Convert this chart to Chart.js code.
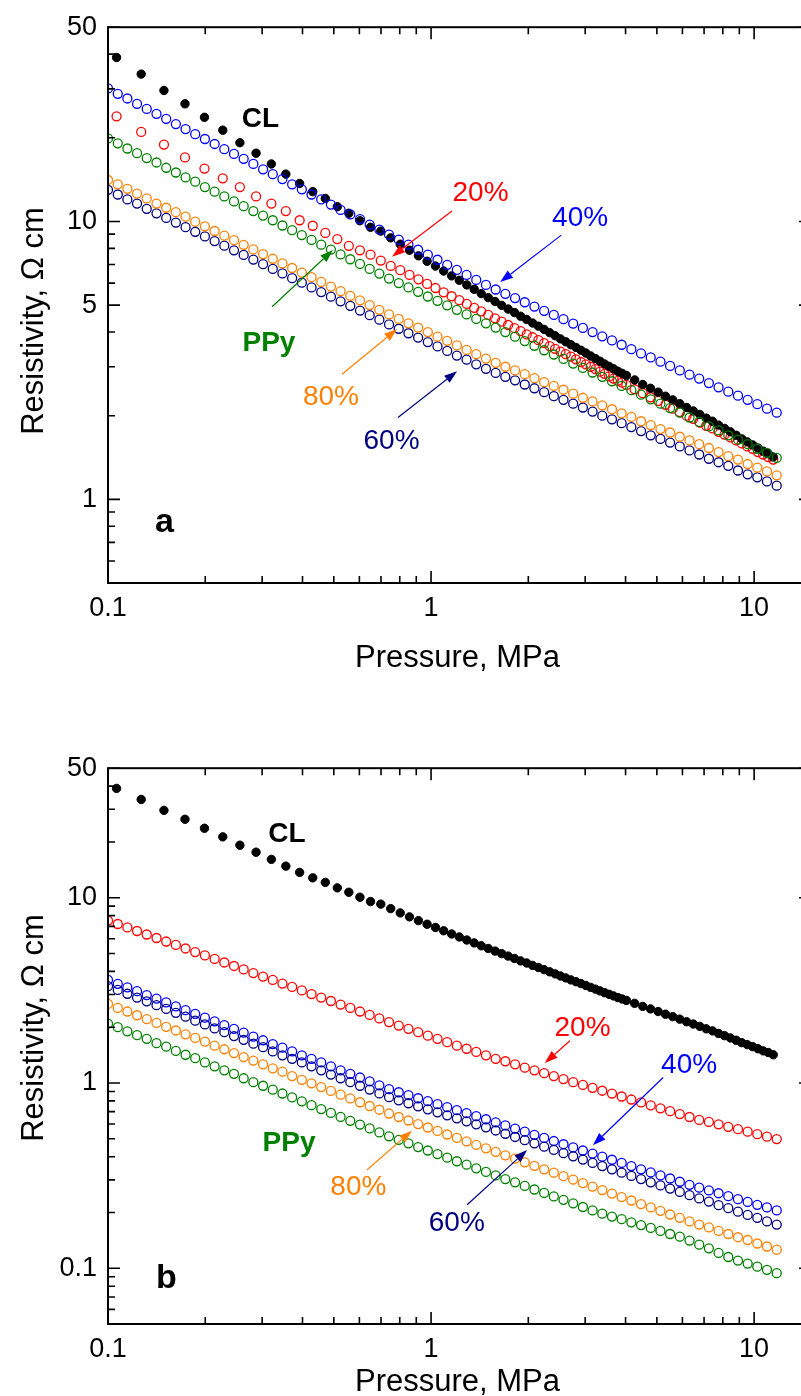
<!DOCTYPE html>
<html>
<head>
<meta charset="utf-8">
<script src="https://cdn.jsdelivr.net/npm/chart.js@4.4.0/dist/chart.umd.min.js"></script>
<style>
  html, body { margin: 0; padding: 0; background: #fff; overflow: hidden; }
  body { width: 801px; height: 1396px; position: relative; }
  .panel { position: absolute; left: 0; width: 820px; height: 690px; }
  #panelA { top: 0; }
  #panelB { top: 741px; }
</style>
</head>
<body>
<div class="panel" id="panelA"><canvas id="chartA" width="820" height="690"></canvas></div>
<div class="panel" id="panelB"><canvas id="chartB" width="820" height="690"></canvas></div>
<script>
// pressure grid (MPa) of the densely sampled composites
const pressure = [
  0.1, 0.1072, 0.1148, 0.123, 0.1318, 0.1413, 0.1514, 0.1622, 0.1738, 0.1862,
  0.1995, 0.2138, 0.2291, 0.2455, 0.263, 0.2818, 0.302, 0.3236, 0.3467, 0.3715,
  0.3981, 0.4266, 0.4571, 0.4898, 0.5248, 0.5623, 0.6026, 0.6457, 0.6918, 0.7413,
  0.7943, 0.8511, 0.912, 0.9772, 1.047, 1.122, 1.202, 1.288, 1.38, 1.479,
  1.585, 1.698, 1.82, 1.95, 2.089, 2.239, 2.399, 2.57, 2.754, 2.951,
  3.162, 3.388, 3.631, 3.89, 4.169, 4.467, 4.786, 5.129, 5.495, 5.888,
  6.31, 6.761, 7.244, 7.762, 8.318, 8.913, 9.55, 10.23, 10.96, 11.75
];

// CL (and 20% in panel a) were logged on a coarser grid at low pressure
const clPressure = [
  0.1063, 0.1267, 0.149, 0.1731, 0.1989, 0.2266, 0.256, 0.2873, 0.3204, 0.3552,
  0.3919, 0.4303, 0.4706, 0.5127, 0.5565, 0.6022, 0.6496, 0.6989, 0.75, 0.8028,
  0.8575, 0.9139, 0.9722, 1.032, 1.094, 1.158, 1.223, 1.29, 1.36, 1.43,
  1.503, 1.578, 1.654, 1.732, 1.812, 1.893, 1.977, 2.062, 2.149, 2.238,
  2.329, 2.421, 2.515, 2.611, 2.709, 2.809, 2.91, 3.014, 3.119, 3.226,
  3.334, 3.445, 3.557, 3.671, 3.787, 3.905, 4.024, 4.268, 4.52, 4.779,
  5.045, 5.318, 5.598, 5.885, 6.18, 6.482, 6.791, 7.108, 7.431, 7.762,
  8.1, 8.445, 8.797, 9.157, 9.523, 9.897, 10.28, 10.67, 11.06, 11.46
];
const clResistivity = [
  38.9, 33.9, 29.6, 26.5, 23.7, 21.3, 19.2, 17.6, 16.1, 14.8,
  13.7, 12.8, 12.1, 11.3, 10.7, 10.06, 9.53, 9.23, 8.73, 8.28,
  7.88, 7.52, 7.19, 6.91, 6.63, 6.37, 6.14, 5.91, 5.70, 5.50,
  5.32, 5.15, 4.99, 4.84, 4.70, 4.56, 4.44, 4.31, 4.20, 4.09,
  3.98, 3.88, 3.78, 3.69, 3.60, 3.52, 3.44, 3.36, 3.28, 3.21,
  3.14, 3.07, 3.01, 2.95, 2.89, 2.84, 2.79, 2.69, 2.59, 2.51,
  2.43, 2.35, 2.28, 2.21, 2.14, 2.08, 2.02, 1.96, 1.91, 1.85,
  1.80, 1.75, 1.70, 1.65, 1.61, 1.57, 1.53, 1.49, 1.46, 1.42
];

// panel a
const a20 = [
  23.9, 21.0, 18.9, 17.0, 15.5, 14.3, 13.3, 12.3, 11.6, 10.9,
  10.1, 9.65, 9.09, 8.64, 8.17, 7.87, 7.59, 7.23, 6.92, 6.68,
  6.42, 6.19, 5.96, 5.76, 5.56, 5.38, 5.21, 5.05, 4.89, 4.75,
  4.61, 4.48, 4.36, 4.24, 4.13, 4.03, 3.92, 3.83, 3.74, 3.65,
  3.56, 3.48, 3.40, 3.33, 3.26, 3.19, 3.12, 3.06, 3.00, 2.94,
  2.88, 2.83, 2.77, 2.72, 2.67, 2.63, 2.58, 2.49, 2.41, 2.33,
  2.26, 2.19, 2.12, 2.06, 2.00, 1.95, 1.89, 1.84, 1.80, 1.75,
  1.71, 1.67, 1.63, 1.59, 1.55, 1.52, 1.48, 1.45, 1.42, 1.39
];
const a40 = [
  30.1, 28.8, 27.7, 26.5, 25.4, 24.4, 23.4, 22.4, 21.5, 20.6,
  19.8, 19.0, 18.2, 17.5, 16.8, 16.1, 15.4, 14.8, 14.2, 13.6,
  13.05, 12.5, 12.0, 11.5, 11.0, 10.6, 10.2, 9.74, 9.35, 8.96,
  8.60, 8.25, 7.91, 7.59, 7.28, 6.98, 6.69, 6.42, 6.16, 5.91,
  5.69, 5.49, 5.30, 5.12, 4.94, 4.77, 4.61, 4.45, 4.29, 4.14,
  4.00, 3.86, 3.73, 3.60, 3.47, 3.35, 3.24, 3.13, 3.02, 2.91,
  2.81, 2.72, 2.62, 2.53, 2.44, 2.36, 2.28, 2.20, 2.12, 2.05
];
const a60 = [
  13.0, 12.5, 12.0, 11.6, 11.1, 10.7, 10.3, 9.91, 9.54, 9.18,
  8.83, 8.50, 8.18, 7.87, 7.58, 7.29, 7.02, 6.75, 6.50, 6.25,
  6.02, 5.79, 5.57, 5.36, 5.16, 4.97, 4.78, 4.60, 4.43, 4.26,
  4.11, 3.96, 3.82, 3.68, 3.55, 3.42, 3.29, 3.18, 3.06, 2.95,
  2.85, 2.76, 2.68, 2.59, 2.51, 2.43, 2.35, 2.28, 2.21, 2.14,
  2.07, 2.00, 1.94, 1.88, 1.82, 1.76, 1.70, 1.65, 1.60, 1.55,
  1.50, 1.45, 1.40, 1.36, 1.32, 1.27, 1.23, 1.20, 1.16, 1.12
];
const a80 = [
  14.1, 13.6, 13.1, 12.6, 12.1, 11.6, 11.2, 10.8, 10.4, 9.98,
  9.60, 9.24, 8.89, 8.56, 8.24, 7.93, 7.63, 7.34, 7.06, 6.80,
  6.54, 6.30, 6.06, 5.83, 5.61, 5.40, 5.20, 5.00, 4.81, 4.63,
  4.46, 4.30, 4.15, 4.00, 3.85, 3.72, 3.58, 3.45, 3.33, 3.21,
  3.10, 3.00, 2.91, 2.82, 2.73, 2.64, 2.56, 2.48, 2.40, 2.32,
  2.25, 2.18, 2.11, 2.04, 1.98, 1.91, 1.85, 1.79, 1.74, 1.68,
  1.63, 1.58, 1.53, 1.48, 1.43, 1.39, 1.34, 1.30, 1.26, 1.22
];
const aPPy = [
  19.9, 19.1, 18.3, 17.6, 16.9, 16.3, 15.6, 15.0, 14.4, 13.9,
  13.3, 12.8, 12.3, 11.8, 11.35, 10.9, 10.5, 10.1, 9.67, 9.30,
  8.93, 8.58, 8.25, 7.92, 7.61, 7.31, 7.03, 6.75, 6.49, 6.23,
  6.00, 5.79, 5.58, 5.37, 5.18, 4.99, 4.81, 4.63, 4.46, 4.30,
  4.15, 4.00, 3.85, 3.71, 3.57, 3.44, 3.32, 3.20, 3.08, 2.97,
  2.86, 2.76, 2.66, 2.56, 2.47, 2.38, 2.29, 2.21, 2.13, 2.05,
  1.97, 1.90, 1.83, 1.77, 1.70, 1.64, 1.58, 1.52, 1.47, 1.41
];

// panel b
const b20 = [
  7.53, 7.21, 6.91, 6.61, 6.33, 6.06, 5.80, 5.56, 5.32, 5.09,
  4.88, 4.67, 4.47, 4.28, 4.10, 3.92, 3.75, 3.60, 3.44, 3.30,
  3.16, 3.02, 2.89, 2.77, 2.65, 2.54, 2.43, 2.33, 2.23, 2.13,
  2.04, 1.96, 1.88, 1.80, 1.73, 1.66, 1.59, 1.53, 1.47, 1.41,
  1.35, 1.31, 1.26, 1.21, 1.17, 1.13, 1.09, 1.05, 1.01, 0.976,
  0.941, 0.908, 0.876, 0.845, 0.814, 0.785, 0.757, 0.730, 0.704, 0.679,
  0.655, 0.632, 0.616, 0.598, 0.580, 0.563, 0.546, 0.529, 0.513, 0.498
];
const b40 = [
  3.60, 3.43, 3.28, 3.13, 2.98, 2.85, 2.72, 2.59, 2.47, 2.36,
  2.25, 2.15, 2.05, 1.96, 1.87, 1.78, 1.70, 1.62, 1.55, 1.48,
  1.41, 1.35, 1.29, 1.23, 1.17, 1.12, 1.07, 1.02, 0.971, 0.926,
  0.891, 0.859, 0.827, 0.797, 0.768, 0.740, 0.713, 0.687, 0.662, 0.637,
  0.613, 0.590, 0.567, 0.546, 0.525, 0.505, 0.486, 0.467, 0.449, 0.432,
  0.416, 0.400, 0.385, 0.370, 0.356, 0.342, 0.329, 0.317, 0.305, 0.293,
  0.282, 0.272, 0.263, 0.254, 0.245, 0.236, 0.228, 0.220, 0.213, 0.205
];
const b60 = [
  3.33, 3.18, 3.03, 2.89, 2.76, 2.63, 2.51, 2.39, 2.28, 2.17,
  2.07, 1.97, 1.88, 1.79, 1.71, 1.63, 1.56, 1.48, 1.41, 1.35,
  1.29, 1.23, 1.17, 1.11, 1.06, 1.01, 0.966, 0.921, 0.878, 0.838,
  0.806, 0.777, 0.748, 0.721, 0.694, 0.669, 0.644, 0.621, 0.598, 0.576,
  0.554, 0.532, 0.511, 0.491, 0.472, 0.453, 0.435, 0.418, 0.402, 0.386,
  0.370, 0.356, 0.342, 0.328, 0.315, 0.303, 0.291, 0.280, 0.269, 0.258,
  0.248, 0.238, 0.229, 0.219, 0.211, 0.202, 0.194, 0.187, 0.179, 0.172
];
const b80 = [
  2.67, 2.54, 2.43, 2.32, 2.21, 2.11, 2.01, 1.92, 1.83, 1.75,
  1.67, 1.59, 1.52, 1.45, 1.38, 1.32, 1.26, 1.20, 1.15, 1.09,
  1.04, 0.995, 0.950, 0.906, 0.865, 0.825, 0.787, 0.751, 0.717, 0.684,
  0.655, 0.627, 0.600, 0.575, 0.551, 0.527, 0.505, 0.484, 0.463, 0.444,
  0.425, 0.407, 0.390, 0.373, 0.357, 0.342, 0.328, 0.314, 0.301, 0.288,
  0.276, 0.264, 0.253, 0.242, 0.232, 0.222, 0.213, 0.204, 0.195, 0.187,
  0.179, 0.172, 0.166, 0.159, 0.153, 0.147, 0.142, 0.136, 0.131, 0.126
];
const bPPy = [
  2.09, 2.00, 1.90, 1.81, 1.73, 1.64, 1.57, 1.49, 1.42, 1.36,
  1.29, 1.23, 1.17, 1.12, 1.06, 1.01, 0.966, 0.920, 0.877, 0.836,
  0.796, 0.759, 0.723, 0.689, 0.656, 0.625, 0.596, 0.568, 0.541, 0.515,
  0.493, 0.472, 0.451, 0.432, 0.413, 0.395, 0.378, 0.362, 0.346, 0.331,
  0.317, 0.303, 0.291, 0.278, 0.266, 0.255, 0.244, 0.234, 0.224, 0.214,
  0.205, 0.197, 0.190, 0.184, 0.177, 0.171, 0.165, 0.159, 0.153, 0.148,
  0.141, 0.134, 0.128, 0.121, 0.115, 0.110, 0.106, 0.102, 0.098, 0.094
];

// axis ticks and labelled ticks
const xTicks = [0.1, 0.2, 0.3, 0.4, 0.5, 0.6, 0.7, 0.8, 0.9, 1, 2, 3, 4, 5, 6, 7, 8, 9, 10];
const xLabels = [0.1, 1, 10];
const yTicksA = [0.5, 0.6, 0.7, 0.8, 0.9, 1, 2, 3, 4, 5, 6, 7, 8, 9, 10, 20, 30, 40, 50];
const yLabelsA = [1, 5, 10, 50];
const yTicksB = [0.05, 0.06, 0.07, 0.08, 0.09, 0.1, 0.2, 0.3, 0.4, 0.5, 0.6, 0.7, 0.8, 0.9,
  1, 2, 3, 4, 5, 6, 7, 8, 9, 10, 20, 30, 40, 50];
const yLabelsB = [0.1, 1, 10, 50];

const RED = '#ff0000', BLUE = '#0000ff', NAVY = '#000080', GREEN = '#008000', ORANGE = '#ff8000', BLACK = '#000000';
const FONT = "'Liberation Sans', Arial, Helvetica, sans-serif";

// labels and arrows, in data units
const notesA = [
  { text: 'CL', x: 0.2965, y: 21.8, color: BLACK, bold: true, size: 28 },
  { text: '20%', x: 1.423, y: 11.8, color: RED, size: 28 },
  { text: '40%', x: 2.893, y: 9.6, color: BLUE, size: 28 },
  { text: 'PPy', x: 0.315, y: 3.42, color: GREEN, bold: true, size: 28 },
  { text: '80%', x: 0.49, y: 2.19, color: ORANGE, size: 28 },
  { text: '60%', x: 0.7546, y: 1.52, color: NAVY, size: 28 },
  { text: 'a', x: 0.1496, y: 0.763, color: BLACK, bold: true, size: 34 }
];
const arrowsA = [
  { from: [1.161, 10.9], to: [0.757, 7.47], color: RED },
  { from: [2.53, 8.93], to: [1.636, 6.05], color: BLUE },
  { from: [0.322, 4.93], to: [0.497, 7.9], color: GREEN },
  { from: [0.53, 2.82], to: [0.785, 4.1], color: ORANGE },
  { from: [0.79, 1.97], to: [1.204, 2.89], color: NAVY }
];
const notesB = [
  { text: 'CL', x: 0.358, y: 20.0, color: BLACK, bold: true, size: 28 },
  { text: '20%', x: 2.944, y: 1.8, color: RED, size: 28 },
  { text: '40%', x: 6.293, y: 1.133, color: BLUE, size: 28 },
  { text: '60%', x: 1.201, y: 0.158, color: NAVY, size: 28 },
  { text: '80%', x: 0.5955, y: 0.248, color: ORANGE, size: 28 },
  { text: 'PPy', x: 0.3634, y: 0.4287, color: GREEN, bold: true, size: 28 },
  { text: 'b', x: 0.1515, y: 0.0782, color: BLACK, bold: true, size: 34 }
];
const arrowsB = [
  { from: [2.69, 1.69], to: [2.25, 1.28], color: RED },
  { from: [5.23, 1.07], to: [3.17, 0.461], color: BLUE },
  { from: [1.293, 0.22], to: [1.983, 0.434], color: NAVY },
  { from: [0.634, 0.34], to: [0.873, 0.553], color: ORANGE }
];

function series(xs, ys, color, filled) {
  return {
    data: xs.map((x, i) => ({ x: x, y: ys[i] })),
    showLine: false,
    pointStyle: 'circle',
    pointRadius: filled ? 4.2 : 4.5,
    pointHoverRadius: 0,
    pointHitRadius: 0,
    pointBorderWidth: filled ? 1 : 1.3,
    borderColor: color,
    backgroundColor: filled ? color : 'rgba(0,0,0,0)',
    clip: 0
  };
}

// inward ticks on all four sides plus the box
const framePlugin = {
  id: 'frame',
  afterDatasetsDraw(chart, args, opts) {
    const { ctx, chartArea: a } = chart;
    const xs = chart.scales.x, ys = chart.scales.y;
    ctx.save();
    ctx.strokeStyle = BLACK;
    ctx.lineWidth = 1.6;
    ctx.beginPath();
    xTicks.forEach(v => {
      const p = xs.getPixelForValue(v);
      const len = xLabels.includes(v) ? 12 : 7;
      ctx.moveTo(p, a.bottom); ctx.lineTo(p, a.bottom - len);
      ctx.moveTo(p, a.top); ctx.lineTo(p, a.top + len);
    });
    opts.yTicks.forEach(v => {
      const p = ys.getPixelForValue(v);
      const len = opts.yLabels.includes(v) ? 12 : 7;
      ctx.moveTo(a.left, p); ctx.lineTo(a.left + len, p);
      ctx.moveTo(a.right, p); ctx.lineTo(a.right - len, p);
    });
    ctx.stroke();
    ctx.lineWidth = 2;
    ctx.strokeRect(a.left, a.top, a.right - a.left, a.bottom - a.top);
    ctx.restore();
  }
};

function drawArrow(ctx, x0, y0, x1, y1, color) {
  const ang = Math.atan2(y1 - y0, x1 - x0);
  const c = Math.cos(ang), s = Math.sin(ang);
  const hl = 13, hw = 4.5;
  ctx.strokeStyle = color;
  ctx.fillStyle = color;
  ctx.lineWidth = 1.2;
  ctx.beginPath();
  ctx.moveTo(x0, y0);
  ctx.lineTo(x1 - hl * c, y1 - hl * s);
  ctx.stroke();
  ctx.beginPath();
  ctx.moveTo(x1, y1);
  ctx.lineTo(x1 - hl * c + hw * s, y1 - hl * s - hw * c);
  ctx.lineTo(x1 - hl * c - hw * s, y1 - hl * s + hw * c);
  ctx.closePath();
  ctx.fill();
}

const notesPlugin = {
  id: 'notes',
  afterDraw(chart, args, opts) {
    const { ctx } = chart;
    const xs = chart.scales.x, ys = chart.scales.y;
    ctx.save();
    opts.arrows.forEach(ar => {
      drawArrow(ctx,
        xs.getPixelForValue(ar.from[0]), ys.getPixelForValue(ar.from[1]),
        xs.getPixelForValue(ar.to[0]), ys.getPixelForValue(ar.to[1]), ar.color);
    });
    ctx.textAlign = 'center';
    ctx.textBaseline = 'alphabetic';
    opts.notes.forEach(n => {
      ctx.fillStyle = n.color;
      ctx.font = (n.bold ? 'bold ' : '') + n.size + 'px ' + FONT;
      ctx.fillText(n.text, xs.getPixelForValue(n.x), ys.getPixelForValue(n.y));
    });
    // axis titles
    ctx.fillStyle = BLACK;
    ctx.font = '31px ' + FONT;
    ctx.fillText('Pressure, MPa', 457.5, opts.xTitleY);
    ctx.translate(43, opts.yTitleY);
    ctx.rotate(-Math.PI / 2);
    ctx.fillText('Resistivity, \u03A9 cm', 0, 0);
    ctx.restore();
  }
};

function makeChart(id, datasets, yMin, yTicks, yLabels, notes, arrows, xTitleY, yTitleY) {
  return new Chart(document.getElementById(id), {
    type: 'scatter',
    data: { datasets: datasets },
    options: {
      responsive: false,
      animation: false,
      devicePixelRatio: 1,
      events: [],
      layout: { padding: { left: 0, top: 16, right: 9, bottom: 0 } },
      plugins: {
        legend: { display: false },
        tooltip: { enabled: false },
        frame: { yTicks: yTicks, yLabels: yLabels },
        notes: { notes: notes, arrows: arrows, xTitleY: xTitleY, yTitleY: yTitleY }
      },
      scales: {
        x: {
          type: 'logarithmic',
          min: 0.1,
          max: 15,
          grid: { display: false, drawTicks: false },
          border: { display: false },
          afterBuildTicks: s => { s.ticks = xTicks.map(v => ({ value: v })); },
          afterFit: s => { s.height = 107; },
          ticks: {
            autoSkip: false, maxRotation: 0, padding: 9, color: BLACK,
            font: { family: FONT, size: 27 },
            callback: v => xLabels.includes(v) ? String(v) : ''
          }
        },
        y: {
          type: 'logarithmic',
          min: yMin,
          max: 50,
          grid: { display: false, drawTicks: false },
          border: { display: false },
          afterBuildTicks: s => { s.ticks = yTicks.map(v => ({ value: v })); },
          afterFit: s => { s.width = 108; },
          ticks: {
            autoSkip: false, padding: 11, color: BLACK,
            font: { family: FONT, size: 27 },
            callback: v => yLabels.includes(v) ? String(v) : ''
          }
        }
      }
    },
    plugins: [framePlugin, notesPlugin]
  });
}

// first dataset is drawn on top
makeChart('chartA', [
  series(pressure, aPPy, GREEN, false),
  series(pressure, a40, BLUE, false),
  series(pressure, a80, ORANGE, false),
  series(pressure, a60, NAVY, false),
  series(clPressure, clResistivity, BLACK, true),
  series(clPressure, a20, RED, false)
], 0.5, yTicksA, yLabelsA, notesA, arrowsA, 667, 321);

makeChart('chartB', [
  series(pressure, bPPy, GREEN, false),
  series(pressure, b80, ORANGE, false),
  series(pressure, b60, NAVY, false),
  series(pressure, b40, BLUE, false),
  series(pressure, b20, RED, false),
  series(clPressure, clResistivity, BLACK, true)
], 0.05, yTicksB, yLabelsB, notesB, arrowsB, 650, 287);
</script>
</body>
</html>
